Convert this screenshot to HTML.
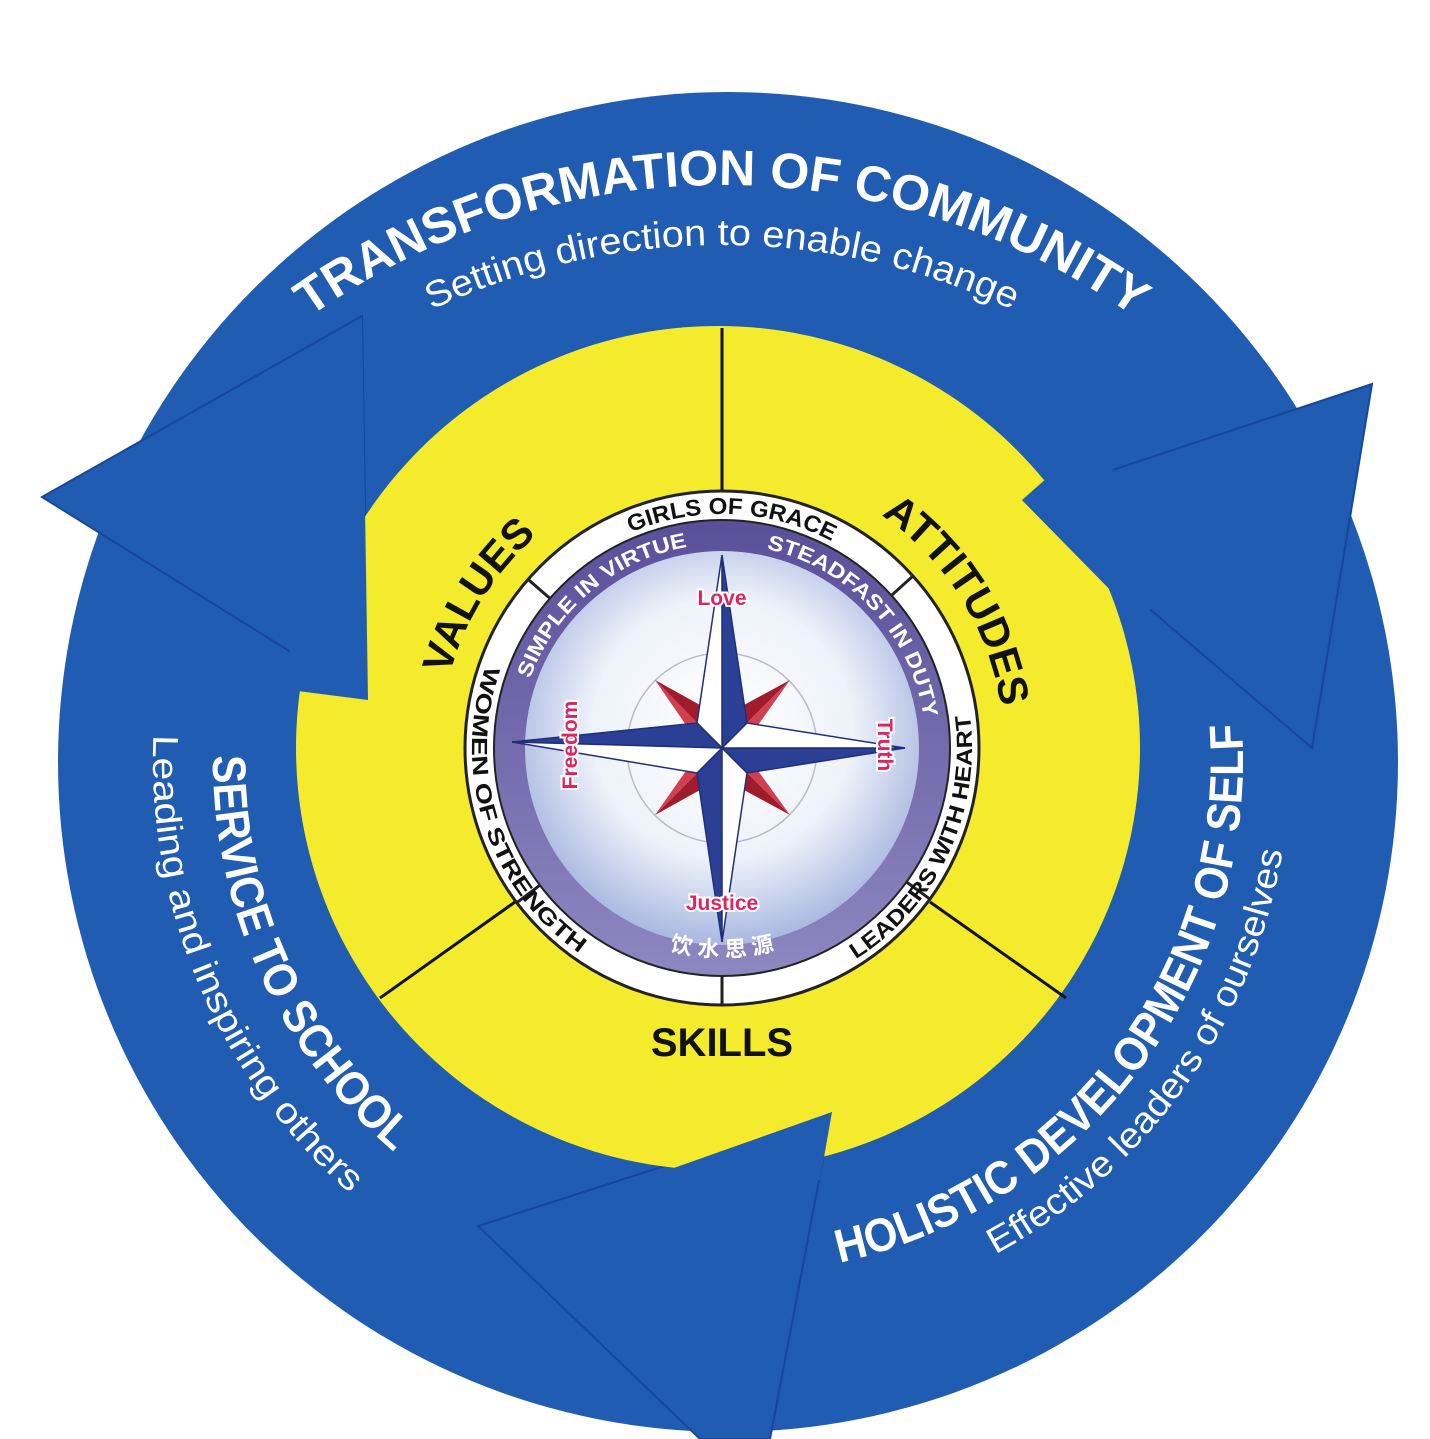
<!DOCTYPE html>
<html><head><meta charset="utf-8"><style>
html,body{margin:0;padding:0;background:#fff;}
svg{display:block;}
text{font-family:"Liberation Sans","Noto Sans CJK SC",sans-serif;}
</style></head><body>
<svg width="1430" height="1439" viewBox="0 0 1430 1439">
<defs>
<radialGradient id="gInner" cx="50%" cy="45%" r="55%">
<stop offset="0" stop-color="#ffffff"/><stop offset="0.6" stop-color="#eef2fa"/><stop offset="1" stop-color="#a9b8e0"/>
</radialGradient>
<linearGradient id="gPurple" x1="0" y1="0" x2="0" y2="1">
<stop offset="0" stop-color="#5a4f9a"/><stop offset="1" stop-color="#8f87c0"/>
</linearGradient>
<path id="pTop" d=""/><path id="pTopSub" d=""/>
<path id="pLeft" d=""/><path id="pLeftSub" d=""/>
<path id="pRight" d=""/><path id="pRightSub" d=""/>
<path id="pValues" d=""/><path id="pAttitudes" d=""/>
<path id="pGirls" d=""/><path id="pWomen" d=""/><path id="pLeaders" d=""/>
<path id="pSimple" d=""/><path id="pSteadfast" d=""/><path id="pChinese" d=""/>
</defs>

<circle cx="728" cy="762" r="670" fill="#1f5cb2"/>
<polygon points="42,497 362,316 368,700" fill="#1f5cb2" stroke="#17479a" stroke-width="2"/>
<polygon points="1372,384 1312,748 1022,500" fill="#1f5cb2" stroke="#17479a" stroke-width="2"/>
<polygon points="478,1226 832,1112 770,1439 700,1439" fill="#1f5cb2" stroke="#17479a" stroke-width="2"/>

<circle cx="718" cy="748" r="422" fill="#f3eb2c"/>
<polygon points="290,500 362,316 368,700 290,690" fill="#1f5cb2"/>
<polygon points="1150,500 1022,500 1130,610 1150,610" fill="#1f5cb2"/>
<polygon points="1022,500 1090,440 1150,520 1130,610" fill="#1f5cb2"/>
<polygon points="640,1180 832,1112 820,1180" fill="#1f5cb2"/>
<line x1="722" y1="328" x2="722" y2="495" stroke="#111" stroke-width="3"/>
<line x1="380" y1="998" x2="515" y2="902" stroke="#111" stroke-width="3"/>
<line x1="1066" y1="998" x2="930" y2="902" stroke="#111" stroke-width="3"/>

<circle cx="722" cy="748" r="257" fill="#fff" stroke="#222" stroke-width="3"/>
<circle cx="722" cy="748" r="228" fill="url(#gPurple)" stroke="#222" stroke-width="2"/>
<circle cx="722" cy="748" r="197" fill="url(#gInner)"/>
<circle cx="722" cy="748" r="95" fill="none" stroke="#b8bcc8" stroke-width="1.5"/>
<g id="ringDividers" stroke="#222" stroke-width="3"></g>

<g>
<polygon points="655,680 712,738 700,705" fill="#a01c2c"/><polygon points="655,680 712,738 688,728" fill="#d04050"/>
<polygon points="790,680 732,738 744,705" fill="#a01c2c"/><polygon points="790,680 732,738 756,728" fill="#d04050"/>
<polygon points="655,815 712,758 700,790" fill="#a01c2c"/><polygon points="655,815 712,758 688,768" fill="#d04050"/>
<polygon points="790,815 732,758 744,790" fill="#a01c2c"/><polygon points="790,815 732,758 756,768" fill="#d04050"/>
<g stroke="#1f2f7a" stroke-width="1.5">
<polygon points="722,555 747,723 722,748" fill="#2b3f95"/><polygon points="722,555 697,723 722,748" fill="#fff"/>
<polygon points="905,748 747,773 722,748" fill="#2b3f95"/><polygon points="905,748 747,723 722,748" fill="#fff"/>
<polygon points="722,942 697,773 722,748" fill="#2b3f95"/><polygon points="722,942 747,773 722,748" fill="#fff"/>
<polygon points="512,742 697,723 722,748" fill="#2b3f95"/><polygon points="512,742 697,773 722,748" fill="#fff"/>
</g>
</g>
<g font-weight="bold" fill="#e0245e" stroke="#fff" stroke-width="4" paint-order="stroke" font-size="21">
<text x="722" y="605" text-anchor="middle">Love</text>
<text x="722" y="910" text-anchor="middle">Justice</text>
<text transform="translate(577,745) rotate(-90)" text-anchor="middle">Freedom</text>
<text transform="translate(878,745) rotate(90)" text-anchor="middle">Truth</text>
</g>

<text fill="#fff" font-weight="bold" font-size="50"><textPath href="#pTop" startOffset="50%" text-anchor="middle" textLength="880" lengthAdjust="spacingAndGlyphs">TRANSFORMATION OF COMMUNITY</textPath></text>
<text fill="#fff" font-size="37"><textPath href="#pTopSub" startOffset="50%" text-anchor="middle" textLength="600" lengthAdjust="spacingAndGlyphs">Setting direction to enable change</textPath></text>
<text fill="#fff" font-weight="bold" font-size="47"><textPath href="#pLeft" textLength="450" lengthAdjust="spacingAndGlyphs">SERVICE TO SCHOOL</textPath></text>
<text fill="#fff" font-size="36"><textPath href="#pLeftSub" textLength="516" lengthAdjust="spacingAndGlyphs">Leading and inspiring others</textPath></text>
<text fill="#fff" font-weight="bold" font-size="47"><textPath href="#pRight" textLength="733" lengthAdjust="spacingAndGlyphs">HOLISTIC DEVELOPMENT OF SELF</textPath></text>
<text fill="#fff" font-size="36"><textPath href="#pRightSub" textLength="513" lengthAdjust="spacingAndGlyphs">Effective leaders of ourselves</textPath></text>

<text fill="#111" font-weight="bold" font-size="42"><textPath href="#pValues" startOffset="50%" text-anchor="middle">VALUES</textPath></text>
<text fill="#111" font-weight="bold" font-size="42"><textPath href="#pAttitudes" startOffset="50%" text-anchor="middle">ATTITUDES</textPath></text>
<text x="722" y="1056" fill="#111" font-weight="bold" font-size="40" text-anchor="middle">SKILLS</text>

<text fill="#111" font-weight="bold" font-size="23"><textPath href="#pGirls" startOffset="50%" text-anchor="middle" textLength="208" lengthAdjust="spacingAndGlyphs">GIRLS OF GRACE</textPath></text>
<text fill="#111" font-weight="bold" font-size="22"><textPath href="#pWomen" startOffset="50%" text-anchor="middle" textLength="325" lengthAdjust="spacingAndGlyphs">WOMEN OF STRENGTH</textPath></text>
<text fill="#111" font-weight="bold" font-size="22"><textPath href="#pLeaders" startOffset="50%" text-anchor="middle" textLength="285" lengthAdjust="spacingAndGlyphs">LEADERS WITH HEART</textPath></text>
<text fill="#fff" font-weight="bold" font-size="21"><textPath href="#pSimple" startOffset="50%" text-anchor="middle" textLength="215" lengthAdjust="spacingAndGlyphs">SIMPLE IN VIRTUE</textPath></text>
<text fill="#fff" font-weight="bold" font-size="21"><textPath href="#pSteadfast" startOffset="50%" text-anchor="middle" textLength="245" lengthAdjust="spacingAndGlyphs">STEADFAST IN DUTY</textPath></text>
<text fill="#fff" font-weight="bold" font-size="22"><textPath href="#pChinese" startOffset="50%" text-anchor="middle">饮 水 思 源</textPath></text>
</svg>
<script>
function pt(cx,cy,r,a){var t=a*Math.PI/180;return [cx+r*Math.cos(t),cy+r*Math.sin(t)];}
function arc(cx,cy,r,a0,a1){
  var s=pt(cx,cy,r,a0),e=pt(cx,cy,r,a1);
  var sweep=a1>a0?1:0, large=Math.abs(a1-a0)>180?1:0;
  return 'M'+s[0].toFixed(1)+' '+s[1].toFixed(1)+' A'+r+' '+r+' 0 '+large+' '+sweep+' '+e[0].toFixed(1)+' '+e[1].toFixed(1);
}
function setD(id,d){document.getElementById(id).setAttribute('d',d);}
setD('pTop',arc(722,895,710,-140,-40));
setD('pTopSub',arc(722,928,683,-130,-50));
setD('pLeft',arc(728,760,515,180.5,110));
setD('pLeftSub',arc(728,760,575,182.5,110));
setD('pRight',arc(728,760,515,77.5,-20));
setD('pRightSub',arc(728,760,562,61.6,-20));
setD('pValues',arc(722,748,282,-200,-96));
setD('pAttitudes',arc(722,748,282,-84,20));
setD('pGirls',arc(722,748,234,-140,-35));
setD('pWomen',arc(722,748,250,225,99));
setD('pLeaders',arc(722,748,250,90,-40));
setD('pSimple',arc(722,748,204,-190,-70));
setD('pSteadfast',arc(722,748,204,-103,17));
setD('pChinese',arc(722,748,209,130,50));
var g=document.getElementById('ringDividers');
[-139,-42,90,143,36].forEach(function(a){
  var p1=pt(722,748,228,a),p2=pt(722,748,257,a);
  var l=document.createElementNS('http://www.w3.org/2000/svg','line');
  l.setAttribute('x1',p1[0]);l.setAttribute('y1',p1[1]);l.setAttribute('x2',p2[0]);l.setAttribute('y2',p2[1]);
  
  
  g.appendChild(l);
});
</script>
</body></html>
